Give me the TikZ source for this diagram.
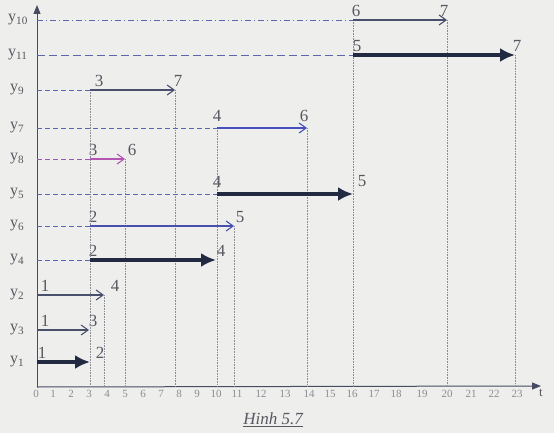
\documentclass[tikz,border=0pt]{standalone}
\usepackage{fontspec}
\setmainfont{Liberation Serif}
\usetikzlibrary{arrows.meta}

\definecolor{paper}{RGB}{238,238,236}
\definecolor{critblue}{RGB}{34,42,66}
\definecolor{taskgray}{RGB}{72,80,108}
\definecolor{taskblue}{RGB}{72,80,190}
\definecolor{taskpink}{RGB}{180,85,180}
\definecolor{leadblue}{RGB}{92,102,172}
\definecolor{numgray}{RGB}{88,88,98}
\definecolor{tickgray}{RGB}{140,140,150}
\definecolor{axiscol}{RGB}{70,75,98}

\begin{document}
\begin{tikzpicture}[
  x=1pt, y=-1pt,
  num/.style={font=\fontsize{17}{17}\selectfont, text=numgray, anchor=south, inner sep=1pt, yshift=2pt},
  ylab/.style={font=\fontsize{16}{16}\selectfont, text=numgray, anchor=west, inner sep=0pt},
  tick/.style={font=\fontsize{11}{11}\selectfont, text=tickgray, inner sep=0pt},
  axis/.style={axiscol, line width=1pt, -{Triangle[length=9pt,width=7pt]}},
  guide/.style={tickgray, line width=0.6pt, densely dotted},
  lead/.style={leadblue, line width=0.8pt, dash pattern=on 5pt off 3pt},
  task/.style={taskgray, line width=1.1pt, -{Straight Barb[length=7pt,width=10pt]}},
  crit/.style={critblue, line width=3.8pt, -{Latex[length=15pt,width=14pt]}},
]
  \fill[paper] (0,0) rectangle (554,433);
  \useasboundingbox (0,0) rectangle (554,433);

  % axes
  \coordinate (o) at (37,387);
  \coordinate (ytop) at (37,5);
  \coordinate (xend) at (541,386);
  \draw[axis] (o) -- (ytop);
  \draw[axis] (o) -- (xend);
  \node[font=\fontsize{13}{13}\selectfont, text=numgray, anchor=north west, inner sep=1pt] (tlab) at (538,388) {t};

  % time scale (drawn by hand, so the steps are not even)
  \foreach \t/\px in {0/36,1/53,2/71,3/89,4/107,5/125,6/143,7/161,8/179,9/197,10/216,11/237,12/261,13/285,14/309,15/330,16/352,17/374,18/396,19/422,20/447,21/471,22/494,23/517}
    \node[tick] (t\t) at (\px,394) {\t};

  % row labels
  \node[ylab] (y10) at (8,20) {y\textsubscript{10}};
  \node[ylab] (y11) at (8,55) {y\textsubscript{11}};
  \node[ylab] (y9) at (10,90) {y\textsubscript{9}};
  \node[ylab] (y7) at (10,128) {y\textsubscript{7}};
  \node[ylab] (y8) at (10,159) {y\textsubscript{8}};
  \node[ylab] (y5) at (10,194) {y\textsubscript{5}};
  \node[ylab] (y6) at (10,226) {y\textsubscript{6}};
  \node[ylab] (y4) at (10,260) {y\textsubscript{4}};
  \node[ylab] (y2) at (10,295) {y\textsubscript{2}};
  \node[ylab] (y3) at (10,330) {y\textsubscript{3}};
  \node[ylab] (y1) at (10,362) {y\textsubscript{1}};

  % events on each row
  \path (37,20) coordinate (s10) (353,20) coordinate (p10a) node[num, xshift=3pt] (l10a) {6}
        (447,20) coordinate (p10b) node[num, xshift=-3pt] (l10b) {7};
  \path (37,55) coordinate (s11) (353,55) coordinate (p11a) node[num, xshift=4pt] (l11a) {5}
        (515,55) coordinate (p11b) node[num, xshift=2pt] (l11b) {7};
  \path (37,90) coordinate (s9) (90,90) coordinate (p9a) node[num, xshift=9pt] (l9a) {3}
        (175,90) coordinate (p9b) node[num, xshift=3pt] (l9b) {7};
  \path (37,128) coordinate (s7) (217,128) coordinate (p7a) node[num, yshift=3pt] (l7a) {4}
        (307,128) coordinate (p7b) node[num, xshift=-3pt, yshift=3pt] (l7b) {6};
  \path (37,159) coordinate (s8) (90,159) coordinate (p8a) node[num, xshift=3pt] (l8a) {3}
        (125,159) coordinate (p8b) node[num, xshift=7pt] (l8b) {6};
  \path (37,194) coordinate (s5) (217,194) coordinate (p5a) node[num, yshift=3pt] (l5a) {4}
        (353,194) coordinate (p5b) node[num, xshift=9pt, yshift=4pt] (l5b) {5};
  \path (37,226) coordinate (s6) (90,226) coordinate (p6a) node[num, xshift=3pt] (l6a) {2}
        (234,226) coordinate (p6b) node[num, xshift=6pt] (l6b) {5};
  \path (37,260) coordinate (s4) (90,260) coordinate (p4a) node[num, xshift=3pt] (l4a) {2}
        (216,260) coordinate (p4b) node[num, xshift=5pt] (l4b) {4};
  \path (37,295) coordinate (p2a) node[num, xshift=8pt] (l2a) {1}
        (104,295) coordinate (p2b) node[num, xshift=11pt] (l2b) {4};
  \path (37,330) coordinate (p3a) node[num, xshift=8pt] (l3a) {1}
        (89,330) coordinate (p3b) node[num, xshift=4pt] (l3b) {3};
  \path (37,362) coordinate (p1a) node[num, xshift=5pt] (l1a) {1}
        (90,362) coordinate (p1b) node[num, xshift=10pt] (l1b) {2};

  % dotted guides down to the time axis
  \foreach \p in {p9a,p2b,p8b,p9b,p7a,p6b,p7b,p10a,p10b,p11b}
    \draw[guide] (\p) -- (\p |- o);

  % waiting lines
  \draw[lead, dash pattern=on 6pt off 3pt on 1pt off 3pt] (s10) -- (p10a);
  \draw[lead, dash pattern=on 8pt off 4pt] (s11) -- (p11a);
  \draw[lead] (s9) -- (p9a);
  \draw[lead] (s7) -- (p7a);
  \draw[lead, taskpink!70!leadblue] (s8) -- (p8a);
  \draw[lead] (s5) -- (p5a);
  \draw[lead] (s6) -- (p6a);
  \draw[lead] (s4) -- (p4a);

  % activities
  \draw[task] (p10a) -- (p10b);
  \draw[crit] (p11a) -- (p11b);
  \draw[task] (p9a) -- (p9b);
  \draw[task, taskblue] (p7a) -- (p7b);
  \draw[task, taskpink] (p8a) -- (p8b);
  \draw[crit] (p5a) -- (p5b);
  \draw[task, taskblue!80!taskgray] (p6a) -- (p6b);
  \draw[crit] (p4a) -- (p4b);
  \draw[task] (p2a) -- (p2b);
  \draw[task] (p3a) -- (p3b);
  \draw[crit] (p1a) -- (p1b);

  \node[font=\fontsize{17}{17}\selectfont\itshape, text=numgray] (cap) at (273,420) {\underline{Hinh 5.7}};
\end{tikzpicture}
\end{document}
